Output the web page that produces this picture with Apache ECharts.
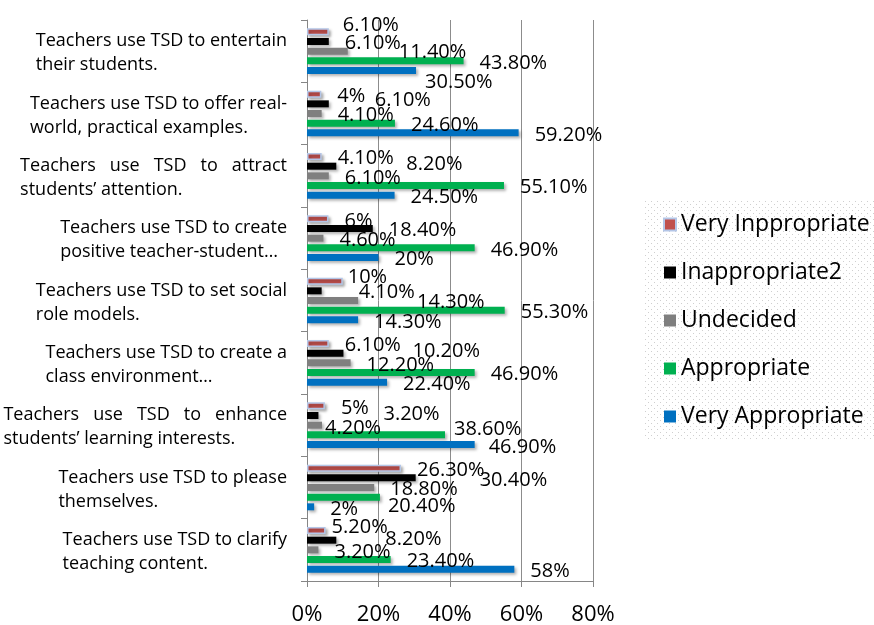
<!DOCTYPE html>
<html>
<head>
<meta charset="utf-8">
<script src="https://cdn.jsdelivr.net/npm/echarts@6/dist/echarts.min.js"></script>
<style>
  html, body { margin: 0; padding: 0; background: #fff; }
  #chart { width: 874px; height: 625px; }
</style>
</head>
<body>
<div id="chart"></div>
<script>
// categories, top to bottom as shown
const categories = [
  "Teachers use TSD to entertain\ntheir students.",
  "Teachers use TSD to offer real-\nworld, practical examples.",
  "Teachers use TSD to attract\nstudents\u2019 attention.",
  "Teachers use TSD to create\npositive teacher-student\u2026",
  "Teachers use TSD to set social\nrole models.",
  "Teachers use TSD to create a\nclass environment\u2026",
  "Teachers use TSD to enhance\nstudents\u2019 learning interests.",
  "Teachers use TSD to please\nthemselves.",
  "Teachers use TSD to clarify\nteaching content."
];
// first lines that are justified in the original
const justified = [2, 6];

const seriesNames = ["Very Inppropriate", "Inappropriate2", "Undecided", "Appropriate", "Very Appropriate"];
const seriesColors = ["#c0504d", "#000000", "#7f7f7f", "#00b050", "#0070c0"];

// percentages
const veryInappropriate = [6.1, 4, 4.1, 6, 10, 6.1, 5, 26.3, 5.2];
const inappropriate2    = [6.1, 6.1, 8.2, 18.4, 4.1, 10.2, 3.2, 30.4, 8.2];
const undecided         = [11.4, 4.1, 6.1, 4.6, 14.3, 12.2, 4.2, 18.8, 3.2];
const appropriate       = [43.8, 24.6, 55.1, 46.9, 55.3, 46.9, 38.6, 20.4, 23.4];
const veryAppropriate   = [30.5, 59.2, 24.5, 20, 14.3, 22.4, 46.9, 2, 58];
const seriesValues = [veryInappropriate, inappropriate2, undecided, appropriate, veryAppropriate];

const xMin = 0, xMax = 80, xStep = 20;

// label nudges (the original labels were dragged around a bit) -> "series:index": [dx, dy]
const labelNudge = {
  "0:0": [-2, -9], "2:0": [35, -1], "4:0": [-7, 10],
  "1:1": [30, -6],
  "1:2": [54, -4],
  "0:4": [-11, -6], "1:4": [21, -1], "2:4": [43, 0],
  "1:5": [53, -4],
  "1:6": [49, -3], "2:6": [-13, 1], "3:6": [-7, -8], "4:6": [-2, 1],
  "1:7": [48, 0], "3:7": [-8, 7],
  "0:8": [-10, -5], "1:8": [33, -3]
};

function fmtPct(v) {
  return Number.isInteger(v) ? v + "%" : v.toFixed(2) + "%";
}

// dotted fill for the legend box
function dotPattern() {
  const c = document.createElement("canvas");
  c.width = 6; c.height = 6;
  const ctx = c.getContext("2d");
  ctx.fillStyle = "#cfcfcf";
  ctx.fillRect(0, 0, 1, 1);
  ctx.fillRect(3, 3, 1, 1);
  return c;
}

const FONT = "'Open Sans', Lato, sans-serif";

const series = seriesNames.map(function (name, s) {
  return {
    name: name,
    type: "bar",
    barWidth: 7,
    barGap: "38%",
    itemStyle: {
      color: seriesColors[s],
      borderColor: s === 0 ? "#b4c6e7" : "rgba(0,0,0,0)",
      borderWidth: s === 0 ? 1.5 : 0,
      shadowColor: "rgba(0,0,0,0.3)",
      shadowBlur: 3,
      shadowOffsetX: 2,
      shadowOffsetY: 2
    },
    label: {
      show: true,
      position: "right",
      distance: 16,
      color: "#000",
      fontFamily: FONT,
      fontSize: 20,
      formatter: function (p) { return fmtPct(p.value); }
    },
    data: seriesValues[s].map(function (v, i) {
      const n = labelNudge[s + ":" + i] || [0, 0];
      return { value: v, label: { offset: [n[0], 2 + n[1]] } };
    })
  };
});

const chart = echarts.init(document.getElementById("chart"));
chart.setOption({
  animation: false,
  textStyle: { fontFamily: FONT },
  grid: { left: 307, right: 281, top: 20, bottom: 44, containLabel: false, outerBoundsMode: "none" },
  xAxis: {
    type: "value",
    min: xMin, max: xMax, interval: xStep,
    axisLine: { show: true, lineStyle: { color: "#868686" } },
    axisTick: { show: true, length: 6, lineStyle: { color: "#868686" } },
    splitLine: { show: true, lineStyle: { color: "#8c8c8c", width: 1 } },
    axisLabel: { color: "#000", fontSize: 22, margin: 23, fontFamily: FONT, formatter: "{value}%" }
  },
  yAxis: {
    type: "category",
    inverse: true,
    data: categories,
    axisLine: { show: true, lineStyle: { color: "#868686" } },
    axisTick: { show: true, length: 6, lineStyle: { color: "#868686" } },
    axisLabel: {
      margin: 20,
      align: "right",
      padding: [4, 0, 0, 0],
      formatter: function (val, idx) {
        const lines = val.split("\n");
        if (justified.indexOf(idx) >= 0) lines[0] = lines[0].split(" ").join("   ");
        return lines.map(function (l) { return "{a|" + l + "}"; }).join("\n");
      },
      rich: { a: { fontSize: 18, lineHeight: 24, color: "#000", align: "left", fontFamily: FONT } }
    }
  },
  legend: {
    orient: "vertical",
    left: 658, top: 208,
    itemWidth: 12, itemHeight: 12,
    itemGap: 25,
    icon: "rect",
    textStyle: { fontSize: 23, color: "#000", fontFamily: FONT },
    data: seriesNames
  },
  graphic: [{
    type: "rect",
    z: -1,
    shape: { x: 645, y: 200, width: 229, height: 240 },
    style: { fill: { image: dotPattern(), repeat: "repeat" } },
    silent: true
  }],
  series: series
});
</script>
</body>
</html>
